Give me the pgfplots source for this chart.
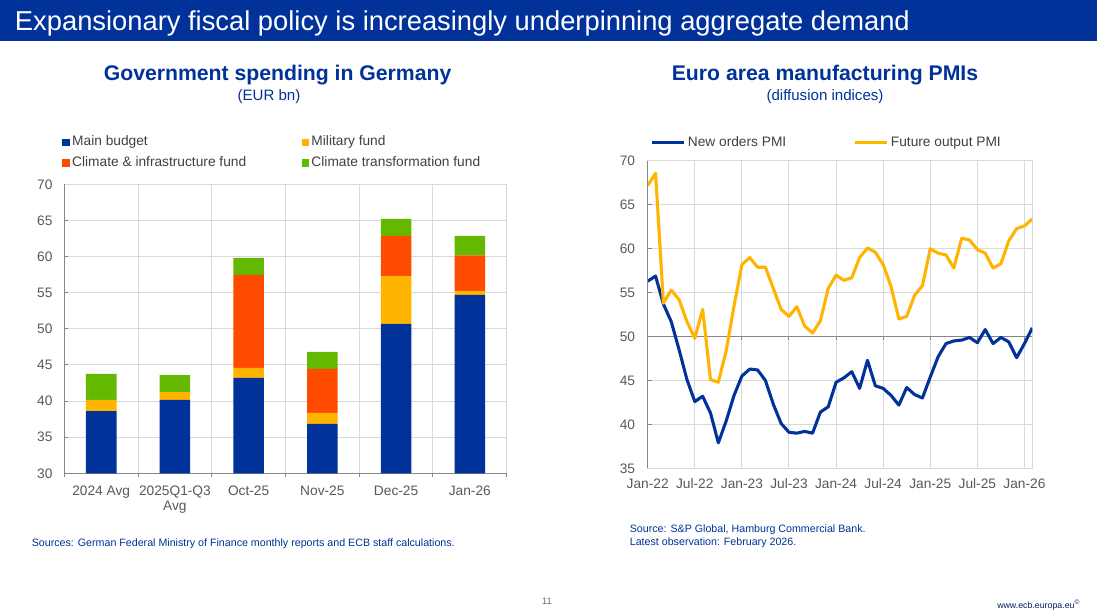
\documentclass[border=0pt]{standalone}
\usepackage{fontspec}
\setmainfont{Liberation Sans}
\usepackage{pgfplots}
\pgfplotsset{compat=1.18}
\definecolor{ecbblue}{RGB}{0,50,153}
\definecolor{ecbyellow}{RGB}{255,180,0}
\definecolor{ecbred}{RGB}{255,75,0}
\definecolor{ecbgreen}{RGB}{101,184,0}
\definecolor{gridgray}{RGB}{217,217,217}
\definecolor{axisgray}{RGB}{134,134,134}
\definecolor{labelgray}{RGB}{89,89,89}
\definecolor{legendgray}{RGB}{64,64,64}
\begin{document}
\begin{tikzpicture}
\path[use as bounding box, fill=white] (0pt,0pt) rectangle (822.75pt,462pt);
\begin{scope}[x=0.75pt,y=-0.75pt,yshift=462pt]
  \fill[ecbblue] (0,0) rectangle (1097,40.7);
  \node[anchor=base west, inner sep=0pt, text=white, font=\fontsize{20.5}{24}\selectfont] at (14.7,31) {Expansionary fiscal policy is increasingly underpinning aggregate demand};
  \node[anchor=base, inner sep=0pt, text=ecbblue, font=\fontsize{15.9}{18}\selectfont\bfseries] at (277.6,80.8) {Government spending in Germany};
  \node[anchor=base, inner sep=0pt, text=ecbblue, font=\fontsize{11.3}{13}\selectfont] at (269,100.5) {(EUR bn)};
  \node[anchor=base, inner sep=0pt, text=ecbblue, font=\fontsize{15.9}{18}\selectfont\bfseries] at (825,80.5) {Euro area manufacturing PMIs};
  \node[anchor=base, inner sep=0pt, text=ecbblue, font=\fontsize{11.3}{13}\selectfont] at (825,100.5) {(diffusion indices)};
  \node[anchor=base west, inner sep=0pt, text=ecbblue, font=\fontsize{8}{10}\selectfont] at (31.6,546.3) {Sources: German Federal Ministry of Finance monthly reports and ECB staff calculations.};
  \node[anchor=base west, inner sep=0pt, text=ecbblue, font=\fontsize{8}{10}\selectfont] at (629.6,532.7) {Source: S\&P Global, Hamburg Commercial Bank.};
  \node[anchor=base west, inner sep=0pt, text=ecbblue, font=\fontsize{8}{10}\selectfont] at (629.6,545.5) {Latest observation: February 2026.};
  \node[anchor=base, inner sep=0pt, text=black!60, font=\fontsize{7}{8}\selectfont] at (547,604.5) {11};
  \node[anchor=base west, inner sep=0pt, text=ecbblue!60!black, font=\fontsize{6.6}{8}\selectfont] at (997,609) {www.ecb.europa.eu\textsuperscript{\tiny ©}};
\end{scope}

% ---------------- Left chart ----------------
\begin{axis}[
  at={(48.23pt,107.03pt)}, anchor=south west, scale only axis,
  width=331.8pt, height=216.75pt,
  xmin=-0.5, xmax=5.5, ymin=30, ymax=70,
  ybar stacked, bar width=23pt,
  xtick={0,1,2,3,4,5},
  xticklabels={2024 Avg,{2025Q1-Q3\\Avg},Oct-25,Nov-25,Dec-25,Jan-26},
  minor xtick={0.5,1.5,2.5,3.5,4.5},
  xminorgrids=true, ymajorgrids=true,
  ytick={30,35,...,70},
  grid style={gridgray, line width=0.75pt},
  minor grid style={gridgray, line width=0.75pt},
  axis line style={gridgray, line width=0.75pt},
  tick align=inside, ytick pos=left, xtick pos=bottom,
  major tick length=3pt,
  xtick style={draw=none},
  ytick style={axisgray, line width=0.75pt},
  /pgf/number format/assume math mode=true,
  tick label style={font=\fontsize{10.3}{11.3}\selectfont, text=labelgray, inner sep=0pt},
  yticklabel style={xshift=-8.7pt},
  xticklabel style={align=center, yshift=-9.4pt},
  clip mode=individual,
  legend columns=2, legend cell align=left,
  legend image code/.code={\fill[#1] (0pt,-2.925pt) rectangle (5.85pt,2.925pt);},
  legend style={at={(-0.0043,1.1671)}, anchor=north west, draw=none, fill=none,
    inner sep=0pt, outer sep=0pt, font=\fontsize{10.3}{12}\selectfont, text=legendgray,
    nodes={inner sep=0pt, text height=7.5pt, text depth=2.2pt},
    /tikz/column sep=1.5pt, /tikz/column 2/.style={column sep=41.6pt}, /tikz/row sep=5.8pt},
]
\addplot[fill=ecbblue, draw=none] coordinates {(0,38.6) (1,40.15) (2,43.2) (3,36.83) (4,50.67) (5,54.68)};
\addlegendentry{Main budget}
\addplot[fill=ecbyellow, draw=none] coordinates {(0,1.55) (1,1.1) (2,1.38) (3,1.52) (4,6.64) (5,0.56)};
\addlegendentry{Military fund}
\addplot[fill=ecbred, draw=none] coordinates {(0,0) (1,0) (2,12.87) (3,6.09) (4,5.54) (5,4.93)};
\addlegendentry{Climate \& infrastructure fund}
\addplot[fill=ecbgreen, draw=none] coordinates {(0,3.6) (1,2.35) (2,2.35) (3,2.35) (4,2.35) (5,2.68)};
\addlegendentry{Climate transformation fund}
\draw[axisgray, line width=0.75pt] (rel axis cs:0,1) -- (rel axis cs:0,0) -- (rel axis cs:1,0);
\pgfplotsinvokeforeach{-0.5,0.5,1.5,2.5,3.5,4.5,5.5}{\draw[axisgray, line width=0.75pt] (axis cs:#1,30) -- ++(0pt,-3pt);}
\end{axis}

% ---------------- Right chart ----------------
\begin{axis}[
  at={(485.78pt,110.78pt)}, anchor=south west, scale only axis,
  width=288.45pt, height=230.48pt,
  xmin=0, xmax=49, ymin=35, ymax=70,
  xtick={0,6,...,48},
  xticklabels={Jan-22,Jul-22,Jan-23,Jul-23,Jan-24,Jul-24,Jan-25,Jul-25,Jan-26},
  ytick={35,40,...,70},
  xmajorgrids=true, ymajorgrids=true,
  grid style={gridgray, line width=0.75pt},
  axis line style={gridgray, line width=0.75pt},
  tick align=inside, ytick pos=left, xtick pos=bottom,
  major tick length=3pt,
  xtick style={draw=none},
  ytick style={axisgray, line width=0.75pt},
  /pgf/number format/assume math mode=true,
  tick label style={font=\fontsize{10.3}{11.3}\selectfont, text=labelgray, inner sep=0pt},
  yticklabel style={xshift=-9.3pt},
  xticklabel style={yshift=-7.5pt},
  clip mode=individual,
  legend columns=2,
  legend image code/.code={\draw[#1] (0pt,0.5pt) -- (23.85pt,0.5pt);},
  legend style={at={(0.0075,1.079)}, anchor=north west, draw=none, fill=none,
    inner sep=0pt, outer sep=0pt, font=\fontsize{10.3}{12}\selectfont, text=legendgray,
    nodes={inner sep=0pt, text height=7.5pt, text depth=2.2pt},
    /tikz/column sep=1.8pt, /tikz/column 2/.style={column sep=50.5pt}},
]
\draw[axisgray, line width=0.75pt] (axis cs:0,50) -- (axis cs:49,50);
\pgfplotsinvokeforeach{0,6,12,18,24,30,36,42,48}{\draw[axisgray, line width=0.75pt] (axis cs:#1,50) -- ++(0pt,-2.5pt);}
\addplot[ecbblue, line width=2.3pt, line join=round] coordinates {
(0,56.3) (1,56.9) (2,53.7) (3,51.7) (4,48.5) (5,45.1) (6,42.6) (7,43.2) (8,41.3) (9,37.9)
(10,40.4) (11,43.3) (12,45.5) (13,46.3) (14,46.2) (15,45.0) (16,42.3) (17,40.1) (18,39.1) (19,39.0)
(20,39.2) (21,39.0) (22,41.4) (23,42.0) (24,44.8) (25,45.3) (26,46.0) (27,44.1) (28,47.3) (29,44.4)
(30,44.1) (31,43.3) (32,42.2) (33,44.2) (34,43.4) (35,43.0) (36,45.4) (37,47.7) (38,49.2) (39,49.5)
(40,49.6) (41,49.9) (42,49.3) (43,50.8) (44,49.2) (45,49.9) (46,49.4) (47,47.6) (48,49.2) (49,51.0)};
\addlegendentry{New orders PMI}
\addplot[ecbyellow, line width=2.3pt, line join=round] coordinates {
(0,67.2) (1,68.6) (2,53.8) (3,55.3) (4,54.2) (5,51.7) (6,49.8) (7,53.1) (8,45.1) (9,44.8)
(10,48.4) (11,53.5) (12,58.2) (13,59.0) (14,57.9) (15,57.9) (16,55.5) (17,53.1) (18,52.3) (19,53.4)
(20,51.2) (21,50.4) (22,51.8) (23,55.5) (24,57.0) (25,56.4) (26,56.7) (27,59.0) (28,60.1) (29,59.6)
(30,58.2) (31,55.7) (32,52.0) (33,52.3) (34,54.7) (35,55.8) (36,60.0) (37,59.5) (38,59.3) (39,57.8)
(40,61.2) (41,61.0) (42,59.9) (43,59.5) (44,57.8) (45,58.3) (46,60.9) (47,62.3) (48,62.6) (49,63.4)};
\addlegendentry{Future output PMI}
\draw[axisgray, line width=0.75pt] (rel axis cs:0,0) -- (rel axis cs:0,1);
\end{axis}
\end{tikzpicture}
\end{document}
